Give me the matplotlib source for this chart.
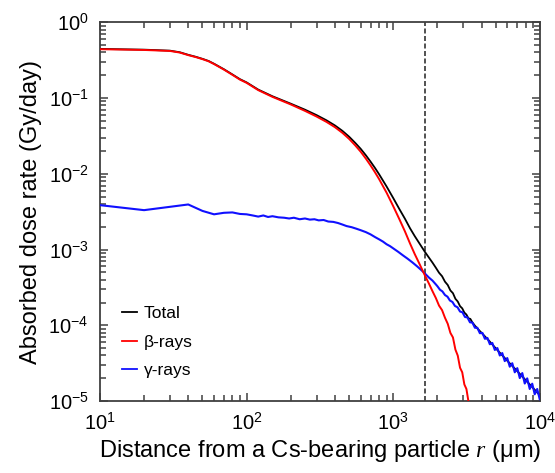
import numpy as np
import matplotlib
matplotlib.use("Agg")
from matplotlib import pyplot as plt
from matplotlib import ticker

plt.rcParams['font.family'] = ['Liberation Sans', 'DejaVu Sans']
plt.rcParams['mathtext.fontset'] = 'custom'
plt.rcParams['mathtext.rm'] = 'Liberation Sans'
plt.rcParams['mathtext.it'] = 'Liberation Serif:italic'

# distance r (um) and log10 of dose rate (Gy/day)
total_r = [10, 20, 30, 35, 40, 45, 50, 55, 60, 70, 80, 90, 100, 120, 150, 200,
           250, 300, 350, 400, 450, 500, 550, 600, 650, 700, 750, 800, 900,
           1000, 1100, 1200, 1300, 1400, 1500, 1640, 1750, 1850, 1950, 2050,
           2150, 2250, 2350, 2450, 2550, 2650, 2750, 2850, 2950, 3050, 3150,
           3250, 3350, 3450, 3600, 3800, 4000, 4500, 5000, 6000, 7000, 8000,
           9000, 10000]
total_logD = [-0.352, -0.362, -0.375, -0.396, -0.430, -0.456, -0.483, -0.511,
              -0.548, -0.620, -0.689, -0.751, -0.794, -0.889, -0.977, -1.075,
              -1.154, -1.226, -1.294, -1.362, -1.434, -1.511, -1.592, -1.672,
              -1.756, -1.840, -1.923, -2.006, -2.168, -2.322, -2.466, -2.593,
              -2.719, -2.823, -2.913, -3.029, -3.107, -3.173, -3.240, -3.306,
              -3.352, -3.424, -3.468, -3.540, -3.576, -3.650, -3.686, -3.747,
              -3.776, -3.832, -3.858, -3.907, -3.915, -3.958, -4.005, -4.055,
              -4.100, -4.205, -4.305, -4.470, -4.605, -4.725, -4.830, -4.925]

beta_r = [10, 20, 30, 35, 40, 45, 50, 55, 60, 70, 80, 90, 100, 120, 150, 200,
          250, 300, 350, 400, 450, 500, 550, 600, 650, 700, 750, 800, 900,
          1000, 1100, 1200, 1300, 1400, 1500, 1640, 1750, 1850, 1950, 2050,
          2150, 2250, 2350, 2450, 2550, 2650, 2750, 2850, 2950, 3050, 3150,
          3250, 3350, 3450]
beta_logD = [-0.356, -0.366, -0.379, -0.400, -0.434, -0.460, -0.487, -0.515,
             -0.552, -0.625, -0.694, -0.757, -0.800, -0.896, -0.985, -1.085,
             -1.170, -1.245, -1.315, -1.385, -1.460, -1.540, -1.625, -1.710,
             -1.800, -1.890, -1.980, -2.070, -2.250, -2.430, -2.600, -2.760,
             -2.920, -3.060, -3.180, -3.340, -3.450, -3.550, -3.640, -3.740,
             -3.800, -3.900, -3.980, -4.100, -4.160, -4.320, -4.400, -4.560,
             -4.620, -4.780, -4.840, -5.000, -5.050, -5.250]

gamma_r = [10, 20, 40, 50, 60, 70, 80, 90, 100, 110, 120, 130, 140, 150, 165,
           180, 195, 210, 230, 250, 270, 290, 310, 335, 360, 390, 420, 450,
           480, 520, 560, 600, 650, 700, 750, 800, 850, 900, 950, 1000, 1080,
           1160, 1250, 1350, 1450, 1550, 1650, 1750, 1850, 1950,
           2000, 2080, 2160, 2250, 2340, 2430, 2530, 2630, 2740, 2850, 2960,
           3080, 3200, 3330, 3460, 3600, 3740, 3890, 4050, 4210, 4380, 4550,
           4730, 4920, 5120, 5320, 5530, 5750, 5980, 6220, 6470, 6730, 7000,
           7280, 7570, 7870, 8180, 8510, 8850, 9200, 9570, 9950]
gamma_logD = [-2.414, -2.480, -2.405, -2.490, -2.535, -2.515, -2.510, -2.530,
              -2.535, -2.550, -2.565, -2.550, -2.570, -2.560, -2.575, -2.580,
              -2.590, -2.580, -2.600, -2.590, -2.605, -2.600, -2.615, -2.610,
              -2.630, -2.635, -2.650, -2.670, -2.690, -2.705, -2.725, -2.745,
              -2.770, -2.800, -2.835, -2.865, -2.895, -2.930, -2.955, -2.985,
              -3.030, -3.075, -3.120, -3.170, -3.220, -3.270, -3.320, -3.370,
              -3.410, -3.460,
              -3.485, -3.530, -3.552, -3.600, -3.622, -3.672, -3.692, -3.744,
              -3.762, -3.818, -3.828, -3.890, -3.896, -3.960, -3.964, -4.032,
              -4.032, -4.104, -4.100, -4.178, -4.166, -4.250, -4.232, -4.325,
              -4.300, -4.398, -4.366, -4.472, -4.432, -4.546, -4.500, -4.620,
              -4.565, -4.696, -4.630, -4.768, -4.700, -4.840, -4.770, -4.910,
              -4.840, -4.975]

r_mark = 1640

fig = plt.figure(figsize=(5.55, 4.73), dpi=100)
ax = fig.add_axes([0.180, 0.152, 0.793, 0.801])

ax.plot(total_r, 10 ** np.array(total_logD), color='black', lw=1.3, zorder=2)
ax.plot(gamma_r, 10 ** np.array(gamma_logD), color='#1010ff', lw=1.5, zorder=3)
ax.plot(beta_r, 10 ** np.array(beta_logD), color='#ff0000', lw=1.4, zorder=4)
ax.axvline(r_mark, color='#333333', lw=1.2, ls=(0, (3, 1.5)), zorder=1)

ax.set_xscale('log')
ax.set_yscale('log')
ax.set_xlim(10, 1e4)
ax.set_ylim(1e-5, 1)

ax.xaxis.set_major_locator(ticker.LogLocator(base=10, numticks=10))
ax.xaxis.set_minor_locator(ticker.LogLocator(base=10, subs=np.arange(2, 10), numticks=20))
ax.yaxis.set_major_locator(ticker.LogLocator(base=10, numticks=10))
ax.yaxis.set_minor_locator(ticker.LogLocator(base=10, subs=np.arange(2, 10), numticks=20))
ax.xaxis.set_minor_formatter(ticker.NullFormatter())
ax.yaxis.set_minor_formatter(ticker.NullFormatter())

for s in ax.spines.values():
    s.set_color('#404040')
    s.set_linewidth(1.3)
ax.tick_params(which='both', direction='in', top=True, right=True, color='#404040', width=1.1)
ax.tick_params(which='major', length=6, labelsize=14.5, pad=8)
ax.tick_params(which='minor', length=4)

ax.set_xlabel(r'Distance from a Cs-bearing particle $\mathit{r}$ (μm)', fontsize=17, labelpad=3)
ax.set_ylabel('Absorbed dose rate (Gy/day)', fontsize=17, labelpad=5)

h_t, = ax.plot([], [], color='black', lw=1.3)
h_b, = ax.plot([], [], color='#ff0000', lw=1.3)
h_g, = ax.plot([], [], color='#1010ff', lw=1.3)
ax.legend([h_t, h_b, h_g], ['Total', 'β-rays', 'γ-rays'], loc='lower left',
          bbox_to_anchor=(0.05, 0.06), frameon=False, fontsize=12.5,
          handlelength=0.85, handletextpad=0.4, labelspacing=0.78,
          borderpad=0, borderaxespad=0)

fig.savefig('out.png', dpi=100)
